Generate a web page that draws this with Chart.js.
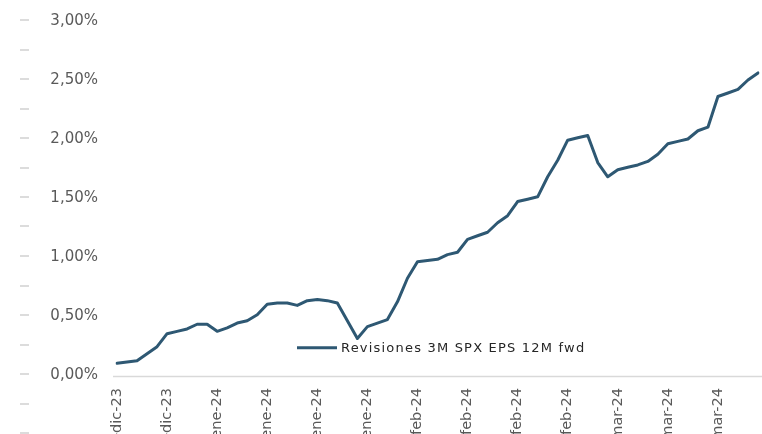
<!DOCTYPE html>
<html>
<head>
<meta charset="utf-8">
<script src="https://cdn.jsdelivr.net/npm/chart.js@4"></script>
<style>
  body { margin: 0; overflow: hidden; background: #fff; }
</style>
</head>
<body>
<canvas id="grafico" width="762" height="480"></canvas>
<script>
// fechas (dias habiles), etiqueta visible cada 5
const fechas = [
  "22-dic-23","25-dic-23","26-dic-23","27-dic-23","28-dic-23",
  "29-dic-23","01-ene-24","02-ene-24","03-ene-24","04-ene-24",
  "05-ene-24","08-ene-24","09-ene-24","10-ene-24","11-ene-24",
  "12-ene-24","15-ene-24","16-ene-24","17-ene-24","18-ene-24",
  "19-ene-24","22-ene-24","23-ene-24","24-ene-24","25-ene-24",
  "26-ene-24","29-ene-24","30-ene-24","31-ene-24","01-feb-24",
  "02-feb-24","05-feb-24","06-feb-24","07-feb-24","08-feb-24",
  "09-feb-24","12-feb-24","13-feb-24","14-feb-24","15-feb-24",
  "16-feb-24","19-feb-24","20-feb-24","21-feb-24","22-feb-24",
  "23-feb-24","26-feb-24","27-feb-24","28-feb-24","29-feb-24",
  "01-mar-24","04-mar-24","05-mar-24","06-mar-24","07-mar-24",
  "08-mar-24","11-mar-24","12-mar-24","13-mar-24","14-mar-24",
  "15-mar-24","18-mar-24","19-mar-24","20-mar-24","21-mar-24"
];

const revisiones = [
  0.10, 0.11, 0.12, 0.18, 0.24,
  0.35, 0.37, 0.39, 0.43, 0.43,
  0.37, 0.40, 0.44, 0.46, 0.51,
  0.60, 0.61, 0.61, 0.59, 0.63,
  0.64, 0.63, 0.61, 0.46, 0.31,
  0.41, 0.44, 0.47, 0.62, 0.82,
  0.96, 0.97, 0.98, 1.02, 1.04,
  1.15, 1.18, 1.21, 1.29, 1.35,
  1.47, 1.49, 1.51, 1.68, 1.82,
  1.99, 2.01, 2.03, 1.80, 1.68,
  1.74, 1.76, 1.78, 1.81, 1.87,
  1.96, 1.98, 2.00, 2.07, 2.10,
  2.36, 2.39, 2.42, 2.50, 2.56
];

const ticksY = [0, 0.5, 1, 1.5, 2, 2.5, 3];
const marcasIzq = [-0.5, -0.25, 0, 0.25, 0.5, 0.75, 1, 1.25, 1.5, 1.75, 2, 2.25, 2.5, 2.75, 3];

const colorLinea = "#2e5873";

function fmtPct(v) {
  return v.toFixed(2).replace(".", ",") + "%";
}

// linea base, rayitas a la izquierda y leyenda dentro del grafico
const extras = {
  id: "extras",
  afterDraw(chart) {
    const ctx = chart.ctx;
    const y = chart.scales.y;
    const area = chart.chartArea;
    ctx.save();

    ctx.strokeStyle = "#d9d9d9";
    ctx.lineWidth = 1.5;
    const y0 = Math.round(y.getPixelForValue(0)) + 1.5;
    ctx.beginPath();
    ctx.moveTo(area.left - 4, y0);
    ctx.lineTo(chart.width, y0);
    ctx.stroke();

    ctx.lineWidth = 2;
    ctx.strokeStyle = "#dcdcdc";
    marcasIzq.forEach(v => {
      const py = Math.round(y.getPixelForValue(v)) - 1;
      ctx.beginPath();
      ctx.moveTo(20, py);
      ctx.lineTo(29, py);
      ctx.stroke();
    });

    const ds = chart.data.datasets[0];
    const ly = y.getPixelForValue(0.23);
    ctx.strokeStyle = ds.borderColor;
    ctx.lineWidth = 3;
    ctx.beginPath();
    ctx.moveTo(area.left + 180, ly);
    ctx.lineTo(area.left + 220, ly);
    ctx.stroke();
    ctx.fillStyle = "#262626";
    ctx.font = "13px 'DejaVu Sans'";
    ctx.letterSpacing = "1.2px";
    ctx.textBaseline = "middle";
    ctx.fillText(ds.label, area.left + 224, ly + 1);

    ctx.restore();
  }
};

const grafico = new Chart(document.getElementById("grafico"), {
  type: "line",
  data: {
    labels: fechas,
    datasets: [
      {
        label: "Revisiones 3M SPX EPS 12M fwd",
        data: revisiones,
        borderColor: colorLinea,
        borderWidth: 3,
        borderJoinStyle: "round",
        borderCapStyle: "round",
        pointRadius: 0,
        tension: 0,
        fill: false
      }
    ]
  },
  options: {
    responsive: false,
    animation: false,
    devicePixelRatio: 1,
    layout: { padding: { top: 21, right: 4, left: 0, bottom: 0 } },
    scales: {
      x: {
        grid: { display: false, drawTicks: false },
        border: { display: false },
        afterFit: (s) => { s.height = 105; s.paddingLeft = 0; s.paddingRight = 0; },
        ticks: {
          autoSkip: false,
          maxRotation: 90,
          minRotation: 90,
          padding: 13,
          color: "#595959",
          font: { family: "'DejaVu Sans'", size: 14.5 },
          callback: function (val, i) {
            return i % 5 === 0 ? this.getLabelForValue(val) : "";
          }
        }
      },
      y: {
        min: 0,
        max: 3,
        grid: { display: false, drawTicks: false },
        border: { display: false },
        afterFit: (s) => { s.width = 117; s.paddingTop = 0; s.paddingBottom = 0; },
        afterBuildTicks: (s) => { s.ticks = ticksY.map(v => ({ value: v })); },
        ticks: {
          padding: 19,
          color: "#595959",
          font: { family: "'DejaVu Sans'", size: 15 },
          callback: (v) => fmtPct(v)
        }
      }
    },
    plugins: {
      legend: { display: false },
      tooltip: { enabled: false }
    }
  },
  plugins: [extras]
});
</script>
</body>
</html>
